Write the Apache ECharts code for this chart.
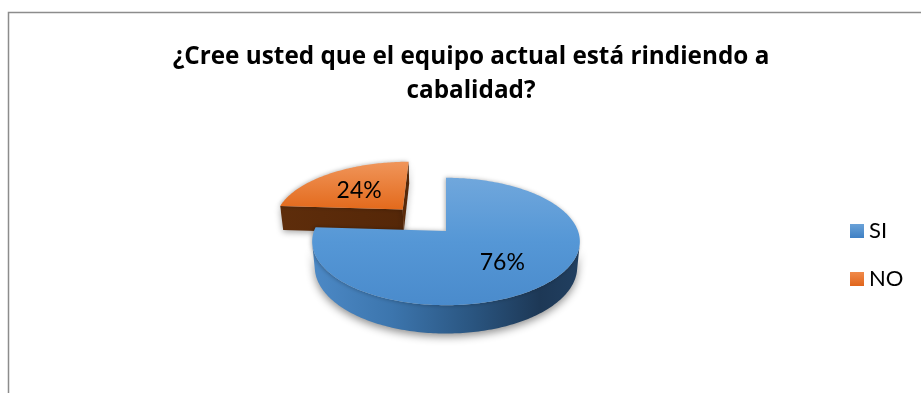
<!DOCTYPE html>
<html><head><meta charset="utf-8">
<script src="https://cdn.jsdelivr.net/npm/echarts@6/dist/echarts.min.js"></script>
<style>html,body{margin:0;padding:0;background:#fff}#c{width:921px;height:393px}</style>
</head><body><div id="c"></div>
<script>
// ---- data ----
const categories = ['SI', 'NO'];
const values = [76, 24];
const percentLabels = ['76%', '24%'];
const titleLines = ['¿Cree usted que el equipo actual está rindiendo a', 'cabalidad?'];

// ---- styles / geometry ----
const FONT = 'Lato, "Open Sans", sans-serif';
const TITLE_FONT = '"Open Sans", Lato, sans-serif';
const G = { cx: 446, cy: 231, R: 132, beta: 28 * Math.PI / 180, D: 706, H: 29, explode: [0, 67], labelR: 0.58 };
const topColors = [
  [[0, '#70a7dc'], [0.5, '#5597d6'], [1, '#4a8bcc']],
  [[0, '#f0955a'], [1, '#e36a1c']]
];
const sideColors = [
  [[0, '#4c89c6'], [0.3, '#3c75ad'], [0.6, '#2a5580'], [0.85, '#1d3856'], [1, '#213f60']],
  [[0, '#5e2d0b'], [1, '#552708']]
];
const legendColors = [
  [[0, '#6aa2d8'], [1, '#3f80c4']],
  [[0, '#f08a4a'], [1, '#e0651c']]
];

const total = values.reduce((a, b) => a + b, 0);
const sb = Math.sin(G.beta), cb = Math.cos(G.beta);
function project(X, Y, Z) {
  const up = Y * sb + Z * cb;
  const depth = Y * cb - Z * sb;
  const k = G.D / (G.D + depth);
  return [G.cx + X * k, G.cy - up * k];
}
const camY = -G.D * cb; // camera position in disc plane (front)
function grad(stops, x2, y2) {
  return new echarts.graphic.LinearGradient(0, 0, x2, y2, stops.map(s => ({ offset: s[0], color: s[1] })));
}
function sliceInfo(i) {
  let before = 0;
  for (let j = 0; j < i; j++) before += values[j];
  const a0 = before / total * 360, a1 = (before + values[i]) / total * 360;
  const am = (a0 + a1) / 2 * Math.PI / 180;
  return { a0, a1, ox: G.explode[i] * Math.sin(am), oy: G.explode[i] * Math.cos(am), am };
}
// draw order: back slices first
const depthRank = categories.map((c, i) => {
  const s = sliceInfo(i);
  return { i, y: s.oy + G.R * 0.5 * Math.cos(s.am) };
}).sort((a, b) => b.y - a.y);
const rankOf = {};
depthRank.forEach((d, r) => { rankOf[d.i] = r; });

function makeRender(i) {
  return function (params, api) {
    const v = api.value(0);
    let before = 0;
    for (let j = 0; j < i; j++) before += values[j];
    const a0 = before / total * 360, a1 = a0 + v / total * 360;
    const am = (a0 + a1) / 2 * Math.PI / 180;
    const ox = G.explode[i] * Math.sin(am), oy = G.explode[i] * Math.cos(am);
    const disc = (deg, r) => { const t = deg * Math.PI / 180; return [ox + r * Math.sin(t), oy + r * Math.cos(t)]; };
    const pt = (deg, r, z) => { const d = disc(deg, r); return project(d[0], d[1], z); };
    const base = rankOf[i] * 10;
    const children = [];
    // radial faces
    [[a0, a0 - 90], [a1, a1 + 90]].forEach(([a, nd]) => {
      const m = disc(a, G.R / 2);
      const n = [Math.sin(nd * Math.PI / 180), Math.cos(nd * Math.PI / 180)];
      const dot = n[0] * (0 - m[0]) + n[1] * (camY - m[1]);
      if (dot > 0) {
        children.push({
          type: 'polygon', z2: base,
          shape: { points: [pt(a, 0, 0), pt(a, G.R, 0), pt(a, G.R, -G.H), pt(a, 0, -G.H)] },
          style: { fill: grad(sideColors[i], 1, 0), shadowBlur: 6, shadowColor: 'rgba(0,0,0,0.35)', shadowOffsetY: 2 }
        });
      }
    });
    // outer side (visible runs)
    const n = Math.ceil(a1 - a0);
    let run = [];
    const runs = [];
    for (let s = 0; s <= n; s++) {
      const a = a0 + (a1 - a0) * s / n;
      const p = disc(a, G.R);
      const t = a * Math.PI / 180;
      const dot = Math.sin(t) * (0 - p[0]) + Math.cos(t) * (camY - p[1]);
      if (dot > 0) run.push(a); else { if (run.length > 1) runs.push(run); run = []; }
    }
    if (run.length > 1) runs.push(run);
    runs.forEach(r => {
      const pts = r.map(a => pt(a, G.R, 0)).concat(r.slice().reverse().map(a => pt(a, G.R, -G.H)));
      children.push({
        type: 'polygon', z2: base + 1,
        shape: { points: pts },
        style: { fill: grad(sideColors[i], 1, 0), shadowBlur: 8, shadowColor: 'rgba(0,0,0,0.45)', shadowOffsetY: 3 }
      });
    });
    // top face
    const topPts = [pt(a0, 0, 0)];
    for (let s = 0; s <= n; s++) topPts.push(pt(a0 + (a1 - a0) * s / n, G.R, 0));
    children.push({
      type: 'polygon', z2: base + 2,
      shape: { points: topPts },
      style: { fill: grad(topColors[i], 0, 1), shadowBlur: 4, shadowColor: 'rgba(0,0,0,0.3)', shadowOffsetX: -1 }
    });
    // label
    const lp = pt((a0 + a1) / 2, G.R * G.labelR, 0);
    children.push({
      type: 'text', z2: base + 3,
      style: { text: percentLabels[i], x: lp[0], y: lp[1] + 3, align: 'center', verticalAlign: 'middle',
               fontFamily: FONT, fontSize: 23, fill: '#000' }
    });
    return { type: 'group', children };
  };
}

const chart = echarts.init(document.getElementById('c'));
chart.setOption({
  animation: false,
  backgroundColor: '#fff',
  title: {
    text: titleLines.join('\n'), left: 471, top: 40, textAlign: 'center', padding: 0,
    textStyle: { fontFamily: TITLE_FONT, fontWeight: 'bold', fontSize: 24.3, lineHeight: 34, color: '#000' }
  },
  legend: {
    orient: 'vertical', left: 850, top: 220, padding: 0, itemWidth: 14, itemHeight: 14, itemGap: 26,
    icon: 'rect', textStyle: { fontFamily: FONT, fontSize: 22, color: '#000' },
    data: categories
  },
  graphic: [{
    type: 'rect', shape: { x: 8.5, y: 12.5, width: 1000, height: 600 },
    style: { fill: 'none', stroke: '#8c8c8c', lineWidth: 1.5 }, silent: true
  }],
  series: categories.map((name, i) => ({
    type: 'custom', name, coordinateSystem: 'none',
    itemStyle: { color: grad(legendColors[i], 0, 1) },
    data: [[values[i]]],
    renderItem: makeRender(i)
  }))
});
</script></body></html>
